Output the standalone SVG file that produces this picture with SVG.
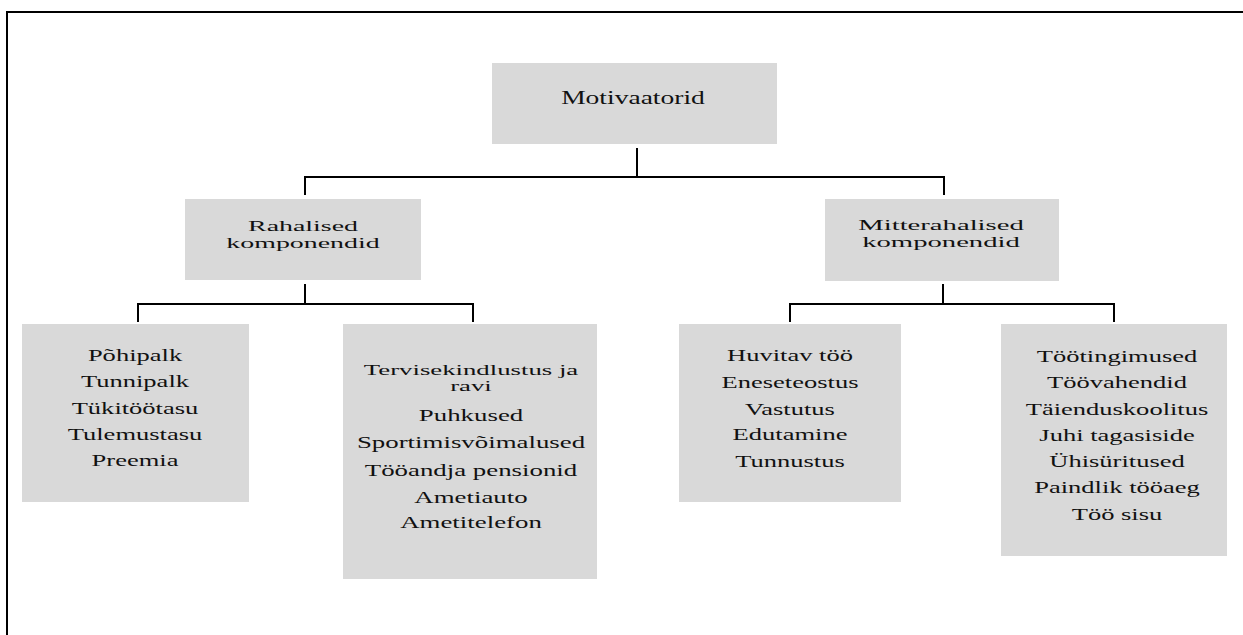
<svg xmlns="http://www.w3.org/2000/svg" width="1243" height="635" viewBox="0 0 1243 635">
<style>
.box{fill:#d9d9d9;stroke:none}
.ln{fill:none;stroke:#000;stroke-width:2}
.t{font-family:"Liberation Serif","Times New Roman",serif;font-size:17px;fill:#111;text-anchor:middle}
.h{font-size:18px}
.s{font-size:15.5px}
</style>
<rect width="1243" height="635" fill="#fff"/>
<path class="ln" d="M7,640 V12 H1250"/>
<g id="connectors">
<path class="ln" d="M637,148 V177 M305,195 V177 H944 V195"/>
<path class="ln" d="M305,284 V304 M138,322 V304 H473 V322"/>
<path class="ln" d="M943,284 V304 M790,322 V304 H1114 V322"/>
</g>
<g id="motivaatorid">
<rect class="box" x="492" y="63" width="285" height="81"/>
<g transform="translate(633,0) scale(1.53,1)"><text class="t h" x="0" y="104">Motivaatorid</text></g>
</g>
<g id="rahalised">
<rect class="box" x="185" y="199" width="236" height="81"/>
<g transform="translate(303,0) scale(1.8,1)"><text class="t s" x="0" y="231">Rahalised</text><text class="t s" x="0" y="248">komponendid</text></g>
</g>
<g id="mitterahalised">
<rect class="box" x="825" y="199" width="234" height="82"/>
<g transform="translate(941,0) scale(1.85,1)"><text class="t s" x="0" y="230">Mitterahalised</text><text class="t s" x="0" y="247">komponendid</text></g>
</g>
<g id="rahalised-1">
<rect class="box" x="22" y="324" width="227" height="178"/>
<g transform="translate(135,0) scale(1.56,1)">
<text class="t" x="0" y="361">Põhipalk</text>
<text class="t" x="0" y="387">Tunnipalk</text>
<text class="t" x="0" y="414">Tükitöötasu</text>
<text class="t" x="0" y="440">Tulemustasu</text>
<text class="t" x="0" y="466">Preemia</text>
</g>
</g>
<g id="rahalised-2">
<rect class="box" x="343" y="324" width="254" height="255"/>
<g transform="translate(471,0) scale(1.58,1)">
<text class="t" x="0" y="375" style="font-size:15px" transform="scale(1.13,1)">Tervisekindlustus ja</text>
<text class="t" x="0" y="391" style="font-size:15px" transform="scale(1.13,1)">ravi</text>
<text class="t" x="0" y="421">Puhkused</text>
<text class="t" x="0" y="448">Sportimisvõimalused</text>
<text class="t" x="0" y="476">Tööandja pensionid</text>
<text class="t" x="0" y="503">Ametiauto</text>
<text class="t" x="0" y="528">Ametitelefon</text>
</g>
</g>
<g id="mitterahalised-1">
<rect class="box" x="679" y="324" width="222" height="178"/>
<g transform="translate(790,0) scale(1.56,1)">
<text class="t" x="0" y="361">Huvitav töö</text>
<text class="t" x="0" y="388">Eneseteostus</text>
<text class="t" x="0" y="415">Vastutus</text>
<text class="t" x="0" y="440">Edutamine</text>
<text class="t" x="0" y="467">Tunnustus</text>
</g>
</g>
<g id="mitterahalised-2">
<rect class="box" x="1001" y="324" width="226" height="232"/>
<g transform="translate(1117,0) scale(1.56,1)">
<text class="t" x="0" y="362">Töötingimused</text>
<text class="t" x="0" y="388">Töövahendid</text>
<text class="t" x="0" y="415">Täienduskoolitus</text>
<text class="t" x="0" y="441">Juhi tagasiside</text>
<text class="t" x="0" y="467">Ühisüritused</text>
<text class="t" x="0" y="493">Paindlik tööaeg</text>
<text class="t" x="0" y="520">Töö sisu</text>
</g>
</g>
</svg>
